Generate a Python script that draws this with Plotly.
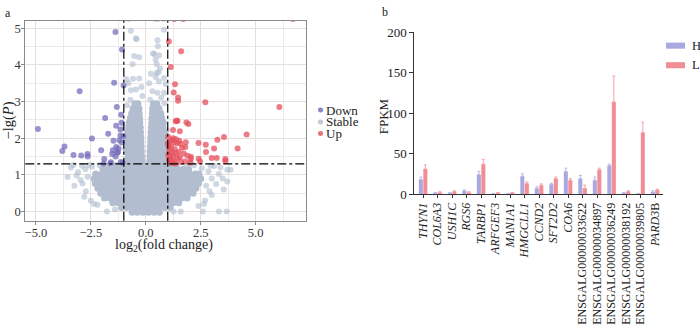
import plotly.graph_objects as go

W, H = 700, 327
FONT = "Liberation Serif"

# ---------------- Panel a: volcano data ----------------
fc_threshold = 1.0
p_threshold = 1.30103  # -lg(0.05)

down_x = [-4.91, -1.38, -1.08, -1.44, -1.01, -3.01, -1.32, -1.85, -1.12, -1.35, -1.10, -1.15, -1.71,
          -2.45, -1.47, -1.20, -3.70, -3.80, -3.29, -2.94, -2.65, -2.65, -2.03, -1.50, -1.35, -1.24,
          -1.53, -1.38, -1.29, -1.92, -1.89, -1.59, -1.14, -1.05, -1.61, -1.09, -1.27, -1.15, -1.02]
down_y = [2.25, 4.90, 4.42, 3.51, 3.44, 3.28, 2.85, 2.55, 2.64, 2.34, 2.42, 2.24, 2.12,
          1.99, 1.93, 1.94, 1.77, 1.65, 1.54, 1.53, 1.57, 1.50, 1.67, 1.67, 1.76, 1.72,
          1.57, 1.50, 1.60, 1.31, 1.43, 1.34, 1.35, 1.33, 1.31, 1.88, 1.62, 2.07, 2.05]

up_x = [1.29, 1.70, 6.70, 1.05, 1.61, 1.14, 1.33, 1.27, 1.47, 1.47, 2.71, 6.08, 1.41, 1.44, 1.85,
        1.94, 1.24, 1.55, 4.59, 3.56, 3.26, 1.01, 1.19, 1.10, 2.40, 2.73, 1.30, 1.42, 1.80, 3.11,
        4.18, 2.74, 1.73, 2.05, 2.05, 3.00, 3.23, 3.62, 3.62, 2.41, 2.47, 1.79, 2.03,
        1.05, 1.15, 1.08, 1.20, 1.32, 1.02, 1.12, 1.25, 1.38, 1.50, 1.05, 1.18, 1.30, 1.45,
        1.08, 1.22, 1.35, 1.55, 1.60, 1.90, 1.65, 1.00, 1.25, 1.37, 1.58, 1.36, 1.52, 1.82]
up_y = [5.25, 5.25, 5.25, 4.64, 4.37, 3.94, 3.47, 3.25, 3.11, 3.02, 2.98, 2.85, 2.48, 2.47, 2.43,
        2.39, 2.22, 2.19, 2.10, 2.03, 1.96, 2.04, 1.95, 1.90, 1.87, 1.82, 1.88, 1.86, 1.76, 1.72,
        1.72, 1.62, 1.58, 1.49, 1.43, 1.46, 1.46, 1.43, 1.38, 1.44, 1.36, 1.36, 1.33,
        1.75, 1.78, 1.65, 1.62, 1.70, 1.55, 1.50, 1.52, 1.58, 1.62, 1.42, 1.40, 1.38, 1.45,
        1.33, 1.32, 1.31, 1.48, 1.35, 1.52, 1.74, 1.85, 2.00, 1.97, 1.85, 2.46, 1.93, 1.89]

# dense stable cloud, read row by row (y level, x positions)
stable_row_y = [-0.02, 0.11, 0.24, 0.37, 0.50, 0.63, 0.76, 0.89, 1.02, 1.15, 1.25,
                1.38, 1.51, 1.64, 1.77, 1.90, 2.03, 2.16, 2.29, 2.42, 2.55, 2.68, 2.81, 2.94]
stable_row_x = [
    [-0.62, -0.38, -0.13, 0.12, 0.37, 0.62],
    [-1.1, -0.87, -0.62, -0.37, -0.12, 0.13, 0.38, 0.63, 0.88, 1.1],
    [-1.5, -1.25, -1.0, -0.75, -0.5, -0.25, 0.0, 0.25, 0.5, 0.75, 1.0, 1.25, 1.5],
    [-1.88, -1.63, -1.38, -1.13, -0.88, -0.63, -0.38, -0.13, 0.12, 0.37, 0.62, 0.87, 1.12, 1.37, 1.62, 1.88],
    [-2.05, -1.8, -1.55, -1.3, -1.05, -0.8, -0.55, -0.3, -0.05, 0.2, 0.45, 0.7, 0.95, 1.2, 1.45,
     1.7, 1.95, 2.15],
    [-2.18, -1.93, -1.68, -1.43, -1.18, -0.93, -0.68, -0.43, -0.18, 0.07, 0.32, 0.57, 0.82, 1.07, 1.32,
     1.57, 1.82, 2.07, 2.28],
    [-2.3, -2.05, -1.8, -1.55, -1.3, -1.05, -0.8, -0.55, -0.3, -0.05, 0.2, 0.45, 0.7, 0.95, 1.2, 1.45,
     1.7, 1.95, 2.2, 2.4],
    [-2.35, -2.12, -1.88, -1.63, -1.38, -1.13, -0.88, -0.63, -0.38, -0.13, 0.12, 0.37, 0.62, 0.87, 1.12,
     1.37, 1.62, 1.87, 2.12, 2.35, 2.5],
    [-2.28, -2.0, -1.75, -1.5, -1.25, -1.0, -0.75, -0.5, -0.25, -0.1, 0.1, 0.25, 0.5, 0.75, 1.0, 1.25,
     1.5, 1.75, 2.0, 2.25, 2.42],
    [-1.95, -1.7, -1.45, -1.2, -0.95, -0.7, -0.45, -0.25, -0.12, 0.12, 0.25, 0.45, 0.7, 0.95, 1.2, 1.45,
     1.7, 1.95],
    [-1.35, -1.12, -0.9, -0.68, -0.48, -0.3, -0.16, 0.16, 0.3, 0.48, 0.68, 0.9, 1.12, 1.38],
    [-0.88, -0.7, -0.5, -0.32, -0.18, 0.18, 0.33, 0.52, 0.72, 0.9],
    [-0.8, -0.6, -0.4, -0.19, 0.19, 0.42, 0.62, 0.82],
    [-0.88, -0.7, -0.5, -0.32, -0.2, 0.2, 0.33, 0.52, 0.72, 0.9],
    [-0.8, -0.6, -0.4, -0.21, 0.21, 0.42, 0.62, 0.83],
    [-0.85, -0.68, -0.5, -0.33, -0.22, 0.22, 0.34, 0.52, 0.7, 0.88],
    [-0.78, -0.6, -0.41, -0.23, 0.23, 0.43, 0.63, 0.82],
    [-0.82, -0.66, -0.5, -0.35, -0.24, 0.24, 0.36, 0.53, 0.7, 0.85],
    [-0.75, -0.58, -0.41, -0.25, 0.25, 0.43, 0.6, 0.78],
    [-0.76, -0.62, -0.48, -0.36, -0.27, 0.27, 0.38, 0.53, 0.66, 0.8],
    [-0.7, -0.54, -0.4, -0.28, 0.28, 0.43, 0.58, 0.73],
    [-0.64, -0.5, -0.37, -0.3, 0.3, 0.4, 0.54, 0.68],
    [-0.58, -0.44, -0.31, 0.31, 0.46, 0.6],
    [-0.5, -0.36, 0.35, 0.5],
]
# scattered stable genes
stable_sparse_x = [-0.79, 0.45, 0.55, 0.83, -0.68, -0.45, -0.42, 0.53, 0.83, 0.55, 0.33, 0.61, 0.39,
                   -0.53, -0.30, -0.60, 0.50, 0.45, 0.49, 0.23, 0.58, -0.30, -0.58, -0.88, 0.83, 0.91,
                   0.45, 0.60, -0.68, -0.45, -0.79, -0.20, 0.30, 0.53, 0.83, 0.15, 0.70, -0.70, -0.85,
                   0.85, -0.15, 0.20, 0.65, -0.95, 0.96, -0.94, 0.95,
                   -3.41, -3.08, -3.56, -2.97, -3.30, -2.88, -2.73, -2.50, -2.20, -2.75, -2.65, -3.15,
                   -1.77, -1.40, -2.90, -2.60, -2.35, -3.25, -2.80, -2.45, -2.1, -1.75,
                   3.11, 3.40, 3.71, 3.33, 3.00, 3.20, 3.71, 2.90, 3.00, 2.70, 2.65, 2.85, 2.75, 3.50,
                   1.26, 1.59, 2.60, 3.33, 3.68, 2.40, 3.86, 2.95, 3.55, 2.55, 2.2, 1.85]
stable_sparse_y = [5.25, 5.25, 5.25, 5.25, 4.93, 4.73, 4.70, 4.67, 4.96, 4.51, 4.31, 4.26, 4.30,
                   4.24, 4.21, 4.02, 4.02, 4.15, 3.78, 3.76, 3.80, 3.63, 3.62, 3.61, 3.64, 3.48,
                   3.67, 3.55, 3.31, 3.33, 3.50, 3.40, 3.28, 3.24, 3.24, 3.50, 3.10, 3.05, 2.90,
                   2.95, 3.15, 3.05, 3.90, 2.30, 2.20, 1.70, 1.60,
                   1.20, 1.07, 0.94, 0.86, 1.27, 0.76, 0.55, 0.29, 0.18, 1.15, 0.95, 0.98,
                   0.00, 0.05, 1.25, 1.27, 0.20, 0.70, 0.40, 1.22, 1.26, 1.25,
                   1.24, 1.20, 1.14, 1.02, 0.90, 0.75, 0.82, 0.55, 0.45, 0.30, 0.20, 1.10, 0.70, 0.90,
                   0.00, 0.00, 0.00, 0.00, 0.00, 0.15, 1.14, 1.25, 0.60, 1.18, 1.26, 1.24]

x_ticks_a = [-5.0, -2.5, 0.0, 2.5, 5.0]
y_ticks_a = [0, 1, 2, 3, 4, 5]

# ---------------- Panel b: bar data ----------------
genes = ["THYN1", "COL6A3", "USH1C", "RGS6", "TARBP1", "ARFGEF3", "MAN1A1", "HMGCLL1", "CCND2",
         "SFT2D2", "COA6", "ENSGALG00000033622", "ENSGALG00000034897", "ENSGALG00000036249",
         "ENSGALG00000038192", "ENSGALG00000039805", "PARD3B"]
gene_labels = ["<i>THYN1</i>", "<i>COL6A3</i>", "<i>USH1C</i>", "<i>RGS6</i>", "<i>TARBP1</i>",
               "<i>ARFGEF3</i>", "<i>MAN1A1</i>", "<i>HMGCLL1</i>", "<i>CCND2</i>", "<i>SFT2D2</i>",
               "<i>COA6</i>", "ENSGALG00000033622", "ENSGALG00000034897", "ENSGALG00000036249",
               "ENSGALG00000038192", "ENSGALG00000039805", "<i>PARD3</i>B"]
h_vals = [18, 1, 1, 4, 24, 0.5, 0.5, 22, 7, 12, 28, 19, 17, 35, 1, 0.5, 2.5]
h_err = [3, 0.5, 0.5, 1, 4, 0.3, 0.3, 3, 2, 1.5, 4, 4, 4, 2, 0.5, 0.3, 1.5]
l_vals = [31, 2, 3, 2, 37, 1, 1.5, 13, 11, 19, 17, 7, 30, 114, 3, 76, 5]
l_err = [5, 0.8, 1, 0.8, 6, 0.4, 0.5, 2, 1.5, 2, 2, 4, 2, 32, 1, 13, 1]
y_ticks_b = [0, 50, 100, 150, 200]

C_DOWN, C_STABLE, C_UP = "rgb(112,106,186)", "rgb(178,190,208)", "rgb(229,82,94)"
C_H, C_L = "#A9A9E2", "#F28C95"


def px2x(p):
    return p / W


def px2y(p):
    return 1 - p / H


stable_x, stable_y, stable_op, stable_sz = [], [], [], []
for yy, xs in zip(stable_row_y, stable_row_x):
    for xx in xs:
        stable_x.append(xx)
        stable_y.append(yy)
        stable_op.append(1.0)
        stable_sz.append(7)
for xx, yy in zip(stable_sparse_x, stable_sparse_y):
    stable_x.append(xx)
    stable_y.append(yy)
    stable_op.append(0.62)
    stable_sz.append(6)

fig = go.Figure()
fig.add_trace(go.Scatter(x=stable_x, y=stable_y, mode="markers", name="Stable", showlegend=False,
                         marker=dict(size=stable_sz, color=C_STABLE, opacity=stable_op, line=dict(width=0)),
                         xaxis="x", yaxis="y", cliponaxis=True))
fig.add_trace(go.Scatter(x=down_x, y=down_y, mode="markers", name="Down", showlegend=False,
                         marker=dict(size=6, color=C_DOWN, opacity=0.72, line=dict(width=0)),
                         xaxis="x", yaxis="y", cliponaxis=True))
fig.add_trace(go.Scatter(x=up_x, y=up_y, mode="markers", name="Up", showlegend=False,
                         marker=dict(size=6, color=C_UP, opacity=0.75, line=dict(width=0)),
                         xaxis="x", yaxis="y", cliponaxis=True))

fig.add_trace(go.Bar(x=genes, y=h_vals, name="H", showlegend=False, marker=dict(color=C_H, line=dict(width=0)),
                     error_y=dict(type="data", array=h_err, arrayminus=[0] * len(h_err), symmetric=False,
                                  color="#B9B9EA", thickness=1, width=1.5),
                     xaxis="x2", yaxis="y2"))
fig.add_trace(go.Bar(x=genes, y=l_vals, name="L", showlegend=False, marker=dict(color=C_L, line=dict(width=0)),
                     error_y=dict(type="data", array=l_err, arrayminus=[0] * len(l_err), symmetric=False,
                                  color="#F5A3AA", thickness=1, width=1.5),
                     xaxis="x2", yaxis="y2"))

grid_major = "#E7DEDE"
grid_minor = "#EEE8E8"
axis_font = dict(family=FONT, size=12.5, color="#333333")

fig.update_layout(
    width=W, height=H, margin=dict(l=0, r=0, t=0, b=0),
    paper_bgcolor="white", plot_bgcolor="white",
    barmode="group", bargap=0.38, bargroupgap=0.1,
    font=dict(family=FONT, size=12, color="#222222"),
    xaxis=dict(domain=[px2x(24.3), px2x(305)], range=[-5.486, 7.273],
               tickvals=x_ticks_a, ticktext=[f"{v:.1f}".replace("-", "\u2212") for v in x_ticks_a],
               showgrid=True, gridcolor=grid_major, gridwidth=1, zeroline=False,
               minor=dict(dtick=1.25, tick0=0, showgrid=True, gridcolor=grid_minor, gridwidth=1),
               showline=True, linecolor="#8a8a8a", linewidth=1, mirror=True,
               ticks="outside", ticklen=3, tickcolor="#8a8a8a", tickfont=axis_font,
               ticklabelstandoff=-3, anchor="y"),
    yaxis=dict(domain=[px2y(224), px2y(14.3)], range=[-0.253, 5.208],
               tickvals=y_ticks_a, showgrid=True, gridcolor=grid_major, gridwidth=1, zeroline=False,
               minor=dict(dtick=0.5, tick0=0, showgrid=True, gridcolor=grid_minor, gridwidth=1),
               showline=True, linecolor="#8a8a8a", linewidth=1, mirror=True,
               ticks="outside", ticklen=3, tickcolor="#8a8a8a", tickfont=axis_font,
               ticklabelstandoff=-2, anchor="x"),
    xaxis2=dict(domain=[px2x(414), px2x(663)], range=[-0.6, 16.55], type="category",
                tickvals=genes, ticktext=gene_labels, tickangle=-90,
                showgrid=False, zeroline=False, showline=True, linecolor="#333333", linewidth=1,
                ticks="outside", ticklen=3, tickcolor="#333333",
                tickfont=dict(family=FONT, size=12, color="#222222"), anchor="y2"),
    yaxis2=dict(domain=[px2y(196), px2y(26.7)], range=[0, 200], tickvals=y_ticks_b,
                showgrid=False, zeroline=False, showline=True, linecolor="#333333", linewidth=1,
                ticks="outside", ticklen=4, tickcolor="#333333",
                tickfont=dict(family=FONT, size=13, color="#222222"), anchor="x2"),
)

# threshold lines
for xv in (-fc_threshold, fc_threshold):
    fig.add_shape(type="line", xref="x", yref="paper", x0=xv, x1=xv, y0=px2y(224), y1=px2y(14.3),
                  line=dict(color="black", width=1.2, dash="dashdot"))
fig.add_shape(type="line", xref="paper", yref="y", x0=px2x(24.3), x1=px2x(305), y0=p_threshold, y1=p_threshold,
              line=dict(color="black", width=1.2, dash="dashdot"))

# custom legend, panel a
for name, col, py in (("Down", C_DOWN, 108), ("Stable", C_STABLE, 120.5), ("Up", C_UP, 132.5)):
    r = 2.6
    fig.add_shape(type="circle", xref="paper", yref="paper",
                  x0=px2x(320 - r), x1=px2x(320 + r), y0=px2y(py + r), y1=px2y(py - r),
                  fillcolor=col, opacity=0.8, line=dict(width=0))
    fig.add_annotation(x=px2x(323.5), y=px2y(py), xref="paper", yref="paper", text=name,
                       showarrow=False, xanchor="left", yanchor="middle",
                       font=dict(family=FONT, size=13, color="#222222"))

# custom legend, panel b
for name, col, py in (("H", C_H, 40.5), ("L", C_L, 61)):
    fig.add_shape(type="rect", xref="paper", yref="paper",
                  x0=px2x(666), x1=px2x(685), y0=px2y(py + 3.2), y1=px2y(py - 3.2),
                  fillcolor=col, line=dict(width=0))
    fig.add_annotation(x=px2x(689.5), y=px2y(py), xref="paper", yref="paper", text=name,
                       showarrow=False, xanchor="left", yanchor="middle",
                       font=dict(family=FONT, size=12.5, color="#222222"))

# titles and panel letters
fig.add_annotation(x=px2x(8), y=px2y(119), xref="paper", yref="paper", text="\u2212lg(<i>P</i>)",
                   textangle=-90, showarrow=False, xanchor="center", yanchor="middle",
                   font=dict(family=FONT, size=14.5, color="#222222"))
fig.add_annotation(x=px2x(163), y=px2y(249.5), xref="paper", yref="paper",
                   text="log<sub>2</sub>(fold change)", showarrow=False, xanchor="center", yanchor="middle",
                   font=dict(family=FONT, size=14, color="#222222"))
fig.add_annotation(x=px2x(383), y=px2y(114), xref="paper", yref="paper", text="FPKM",
                   textangle=-90, showarrow=False, xanchor="center", yanchor="middle",
                   font=dict(family=FONT, size=13, color="#222222"))
fig.add_annotation(x=px2x(2), y=px2y(6), xref="paper", yref="paper", text="a",
                   showarrow=False, xanchor="left", yanchor="middle",
                   font=dict(family=FONT, size=12, color="#222222"))
fig.add_annotation(x=px2x(380), y=px2y(5), xref="paper", yref="paper", text="b",
                   showarrow=False, xanchor="left", yanchor="middle",
                   font=dict(family=FONT, size=12, color="#222222"))

fig.write_html("out.html", config={"displayModeBar": False},
               post_script="document.body.style.margin='0';document.body.style.overflow='hidden';")
